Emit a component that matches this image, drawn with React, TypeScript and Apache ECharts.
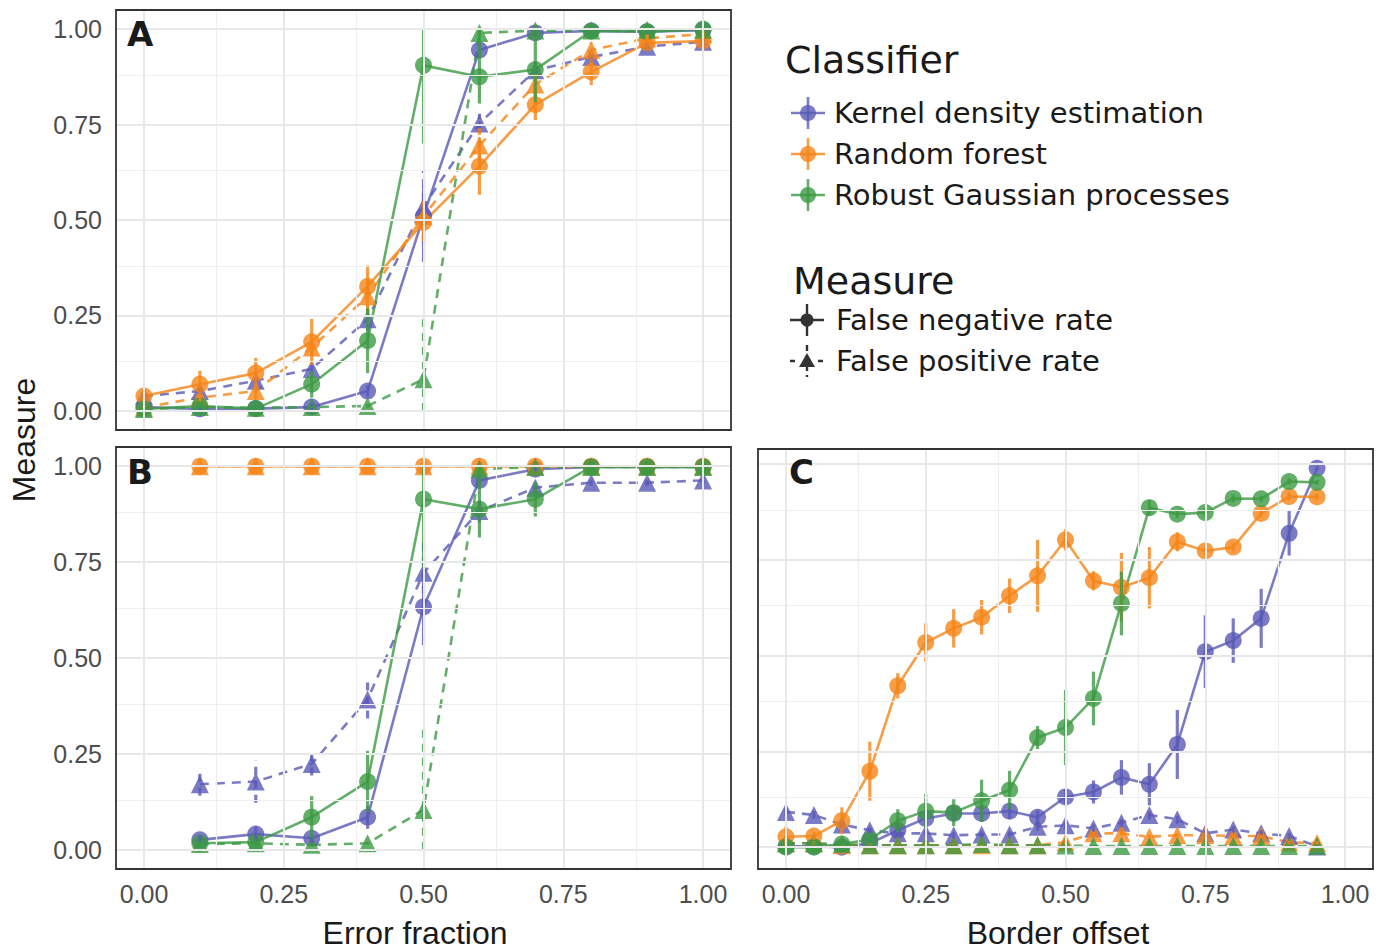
import React, { useEffect, useRef } from 'react';
import * as echarts from 'echarts';

// ---------- data ----------
const errorFractionA = [0, 0.1, 0.2, 0.3, 0.4, 0.5, 0.6, 0.7, 0.8, 0.9, 1.0];
const errorFractionB = [0.1, 0.2, 0.3, 0.4, 0.5, 0.6, 0.7, 0.8, 0.9, 1.0];
const borderOffset = [0, 0.05, 0.1, 0.15, 0.2, 0.25, 0.3, 0.35, 0.4, 0.45, 0.5, 0.55, 0.6, 0.65, 0.7, 0.75, 0.8, 0.85, 0.9, 0.95];

type Err = number | [number, number];

// Panel A
const aKdeFnr = [0.01, 0.005, 0.006, 0.01, 0.052, 0.51, 0.945, 0.99, 0.995, 0.993, 0.997];
const aKdeFnrErr: Err[] = [0.005, 0.005, 0.005, 0.01, 0.015, [0.12, 0.08], 0.02, 0.01, 0.005, 0.005, 0.005];
const aKdeFpr = [0.039, 0.052, 0.079, 0.11, 0.24, 0.535, 0.753, 0.892, 0.927, 0.954, 0.967];
const aKdeFprErr: Err[] = [0.005, 0.01, 0.012, 0.012, 0.03, 0.095, 0.025, 0.02, 0.015, 0.01, 0.008];
const aRfFnr = [0.039, 0.07, 0.099, 0.181, 0.326, 0.494, 0.641, 0.802, 0.888, 0.964, 0.969];
const aRfFnrErr: Err[] = [0.01, 0.035, 0.04, 0.06, 0.055, 0.05, 0.075, 0.04, 0.035, 0.02, 0.01];
const aRfFpr = [0.009, 0.035, 0.052, 0.166, 0.3, 0.51, 0.695, 0.855, 0.945, 0.976, 0.987];
const aRfFprErr: Err[] = [0.005, 0.01, 0.02, 0.02, 0.045, 0.04, 0.045, 0.03, 0.02, 0.01, 0.01];
const aRgpFnr = [0.005, 0.013, 0.006, 0.07, 0.184, 0.905, 0.875, 0.894, 0.995, 0.993, 1.0];
const aRgpFnrErr: Err[] = [0.005, 0.005, 0.005, 0.035, 0.085, [0.205, 0.095], [0.07, 0.12], [0.085, 0.1], 0.005, 0.005, 0.003];
const aRgpFpr = [0.005, 0.01, 0.008, 0.01, 0.013, 0.083, 0.99, 0.996, 0.996, 0.998, 0.998];
const aRgpFprErr: Err[] = [0.003, 0.003, 0.003, 0.003, 0.005, [0.083, 0.157], 0.01, 0.003, 0.003, 0.003, 0.003];

// Panel B
const bKdeFnr = [0.026, 0.041, 0.03, 0.085, 0.633, 0.963, 0.992, 0.998, 0.998, 0.998];
const bKdeFnrErr: Err[] = [0.012, 0.02, 0.012, 0.03, 0.1, 0.015, 0.005, 0.002, 0.002, 0.002];
const bKdeFpr = [0.171, 0.178, 0.224, 0.392, 0.722, 0.883, 0.944, 0.957, 0.957, 0.963];
const bKdeFprErr: Err[] = [0.03, 0.055, 0.03, 0.05, 0.09, 0.03, 0.015, 0.008, 0.008, 0.008];
const bRfFnr = [1, 1, 1, 1, 1, 1, 1, 1, 1, 1];
const bRfFnrErr: Err[] = [0, 0, 0, 0, 0, 0, 0, 0, 0, 0];
const bRfFpr = [1, 1, 1, 1, 1, 1, 1, 1, 1, 1];
const bRfFprErr: Err[] = [0, 0, 0, 0, 0, 0, 0, 0, 0, 0];
const bRgpFnr = [0.017, 0.02, 0.085, 0.178, 0.914, 0.888, 0.914, 0.998, 0.998, 0.998];
const bRgpFnrErr: Err[] = [0.005, 0.008, 0.055, 0.08, [0.178, 0.086], [0.074, 0.104], 0.045, 0.002, 0.002, 0.002];
const bRgpFpr = [0.015, 0.017, 0.013, 0.017, 0.104, 0.992, 0.998, 0.998, 0.998, 0.998];
const bRgpFprErr: Err[] = [0.003, 0.003, 0.003, 0.003, [0.104, 0.222], 0.005, 0.002, 0.002, 0.002, 0.002];

// Panel C
const cKdeFnr = [0.002, 0.002, 0.0, 0.01, 0.044, 0.075, 0.088, 0.088, 0.094, 0.078, 0.131, 0.144, 0.182, 0.164, 0.268, 0.51, 0.539, 0.597, 0.819, 0.989];
const cKdeFnrErr: Err[] = [0.003, 0.003, 0.003, 0.008, 0.015, 0.02, 0.02, 0.022, 0.02, 0.018, 0.02, 0.03, 0.045, 0.055, 0.09, 0.095, 0.058, 0.077, 0.058, 0.005];
const cKdeFpr = [0.092, 0.084, 0.059, 0.044, 0.036, 0.036, 0.031, 0.033, 0.033, 0.053, 0.057, 0.049, 0.064, 0.084, 0.073, 0.036, 0.046, 0.036, 0.029, 0.002];
const cKdeFprErr: Err[] = [0.01, 0.01, 0.01, 0.008, 0.008, 0.008, 0.008, 0.008, 0.008, 0.01, 0.01, 0.01, 0.012, 0.012, 0.012, 0.008, 0.008, 0.008, 0.008, 0.003];
const cRfFnr = [0.027, 0.029, 0.069, 0.198, 0.421, 0.534, 0.571, 0.6, 0.656, 0.708, 0.802, 0.695, 0.678, 0.703, 0.797, 0.773, 0.783, 0.871, 0.915, 0.914];
const cRfFnrErr: Err[] = [0.027, 0.01, 0.035, 0.077, 0.033, 0.05, 0.05, 0.045, 0.045, 0.094, 0.028, 0.025, 0.09, 0.08, 0.025, 0.01, 0.01, 0.01, 0.01, 0.008];
const cRfFpr = [0.01, 0.01, 0.005, 0.005, 0.005, 0.005, 0.005, 0.005, 0.005, 0.005, 0.013, 0.036, 0.036, 0.027, 0.031, 0.031, 0.029, 0.029, 0.012, 0.011];
const cRfFprErr: Err[] = [0.005, 0.005, 0.005, 0.005, 0.005, 0.005, 0.005, 0.005, 0.005, 0.005, 0.005, 0.005, 0.005, 0.005, 0.005, 0.005, 0.005, 0.005, 0.005, 0.005];
const cRgpFnr = [0.0, 0.0, 0.008, 0.02, 0.069, 0.094, 0.09, 0.121, 0.149, 0.286, 0.312, 0.388, 0.636, 0.886, 0.869, 0.873, 0.91, 0.909, 0.954, 0.952];
const cRgpFnrErr: Err[] = [0.005, 0.005, 0.005, 0.01, 0.03, 0.045, 0.035, 0.055, 0.05, 0.03, 0.098, 0.07, 0.083, 0.02, 0.01, 0.012, 0.01, 0.008, 0.008, 0.006];
const cRgpFpr = [0.01, 0.01, 0.008, 0.005, 0.005, 0.005, 0.005, 0.008, 0.005, 0.005, 0.004, 0.003, 0.003, 0.003, 0.003, 0.003, 0.003, 0.003, 0.003, 0.003];
const cRgpFprErr: Err[] = [0.003, 0.003, 0.003, 0.003, 0.003, 0.003, 0.003, 0.003, 0.003, 0.003, 0.003, 0.003, 0.003, 0.003, 0.003, 0.003, 0.003, 0.003, 0.003, 0.003];

const tickValues = [0, 0.25, 0.5, 0.75, 1];
const minorValues = [0.125, 0.375, 0.625, 0.875];
const classifierNames = ['Kernel density estimation', 'Random forest', 'Robust Gaussian processes'];
const measureNames = ['False negative rate', 'False positive rate'];

// ---------- styles ----------
const BLUE = '#5a5ab6';
const ORANGE = '#f58518';
const GREEN = '#3c9a44';
const COLORS = [BLUE, ORANGE, GREEN];
const ALPHA = 0.8;
const AXIS_FONT = '"Liberation Sans", Arial, sans-serif';
const LEGEND_FONT = '"DejaVu Sans", sans-serif';

type SeriesSet = { fnr: number[]; fnrErr: Err[]; fpr: number[]; fprErr: Err[] };

function errData(xs: number[], vs: number[], es: Err[]) {
  return xs.map((x, i) => {
    const e = es[i];
    const d = Array.isArray(e) ? e[0] : e;
    const u = Array.isArray(e) ? e[1] : e;
    return [x, vs[i] - d, vs[i] + u];
  });
}

function gridLineSeries(g: number) {
  const minorStyle = { color: '#efefef', width: 1.2, type: 'solid' };
  const majorStyle = { color: '#e8e8e8', width: 2, type: 'solid' };
  return {
    type: 'line',
    xAxisIndex: g,
    yAxisIndex: g,
    data: [],
    silent: true,
    z: 1,
    markLine: {
      silent: true,
      symbol: ['none', 'none'],
      label: { show: false },
      emphasis: { disabled: true },
      animation: false,
      data: [
        ...minorValues.map((v) => ({ yAxis: v, lineStyle: minorStyle })),
        ...minorValues.map((v) => ({ xAxis: v, lineStyle: minorStyle })),
        ...tickValues.map((v) => ({ yAxis: v, lineStyle: majorStyle })),
        ...tickValues.map((v) => ({ xAxis: v, lineStyle: majorStyle })),
      ],
    },
  };
}

function panelSeries(g: number, xs: number[], sets: SeriesSet[]) {
  const lines: any[] = [];
  const bars: any[] = [];
  sets.forEach((s, ci) => {
    const color = COLORS[ci];
    [
      { vals: s.fnr, errs: s.fnrErr, dashed: false, m: 0 },
      { vals: s.fpr, errs: s.fprErr, dashed: true, m: 1 },
    ].forEach(({ vals, errs, dashed, m }) => {
      lines.push({
        name: classifierNames[ci] + ' - ' + measureNames[m],
        type: 'line',
        xAxisIndex: g,
        yAxisIndex: g,
        data: xs.map((x, i) => [x, vals[i]]),
        symbol: dashed ? 'triangle' : 'circle',
        symbolSize: dashed ? 18 : 17,
        showSymbol: true,
        silent: true,
        z: 3,
        lineStyle: { color, width: 2.6, type: dashed ? [9, 7] : 'solid', opacity: ALPHA },
        itemStyle: { color, opacity: ALPHA },
      });
      bars.push({
        type: 'custom',
        xAxisIndex: g,
        yAxisIndex: g,
        silent: true,
        z: 4,
        itemStyle: { color, borderColor: color, borderWidth: 3.2 },
        data: errData(xs, vals, errs),
        encode: { x: 0, y: [1, 2] },
        renderItem: (_params: any, api: any) => {
          const x = api.value(0);
          const a = api.coord([x, api.value(1)]);
          const b = api.coord([x, api.value(2)]);
          return {
            type: 'line',
            shape: { x1: a[0], y1: a[1], x2: b[0], y2: b[1] },
            style: { stroke: color, lineWidth: 3.2, lineDash: dashed ? [8, 6] : null, opacity: ALPHA, fill: null },
          };
        },
      });
    });
  });
  return [...lines, ...bars];
}

function makeXAxis(g: number, showLabels: boolean) {
  return {
    type: 'value',
    gridIndex: g,
    min: -0.05,
    max: 1.05,
    axisLine: { show: false },
    splitLine: { show: false },
    axisTick: {
      show: showLabels,
      customValues: tickValues,
      length: 8,
      lineStyle: { color: '#333333', width: 1.6 },
    },
    axisLabel: {
      show: showLabels,
      customValues: tickValues,
      formatter: (v: number) => v.toFixed(2),
      fontFamily: AXIS_FONT,
      fontSize: 25,
      color: '#4d4d4d',
      margin: 12,
    },
  };
}

function makeYAxis(g: number, showLabels: boolean, min: number, max: number) {
  return {
    type: 'value',
    gridIndex: g,
    min,
    max,
    axisLine: { show: false },
    splitLine: { show: false },
    axisTick: {
      show: showLabels,
      customValues: tickValues,
      length: 8,
      lineStyle: { color: '#333333', width: 1.6 },
    },
    axisLabel: {
      show: showLabels,
      customValues: tickValues,
      formatter: (v: number) => v.toFixed(2),
      fontFamily: AXIS_FONT,
      fontSize: 25,
      color: '#4d4d4d',
      margin: 14,
    },
  };
}

const panels = [
  { left: 116, top: 10, width: 615, height: 420, label: 'A' },
  { left: 116, top: 447, width: 615, height: 422, label: 'B' },
  { left: 758, top: 449, width: 615, height: 420, label: 'C' },
];

function legendGraphics() {
  const els: any[] = [];
  els.push({
    type: 'text', x: 785, y: 60,
    style: { text: 'Classifier', fontFamily: LEGEND_FONT, fontSize: 38, fill: '#1a1a1a', align: 'left', verticalAlign: 'middle' },
  });
  const rowsY = [113, 154, 195];
  rowsY.forEach((y, i) => {
    const c = COLORS[i];
    els.push({ type: 'line', shape: { x1: 791, y1: y, x2: 825, y2: y }, style: { stroke: c, lineWidth: 2.6, opacity: ALPHA } });
    els.push({ type: 'line', shape: { x1: 808, y1: y - 16, x2: 808, y2: y + 16 }, style: { stroke: c, lineWidth: 2.6, opacity: ALPHA } });
    els.push({ type: 'circle', shape: { cx: 808, cy: y, r: 8 }, style: { fill: c, opacity: ALPHA } });
    els.push({
      type: 'text', x: 834, y,
      style: { text: classifierNames[i], fontFamily: LEGEND_FONT, fontSize: 29, fill: '#1a1a1a', align: 'left', verticalAlign: 'middle' },
    });
  });
  els.push({
    type: 'text', x: 793, y: 281,
    style: { text: 'Measure', fontFamily: LEGEND_FONT, fontSize: 38, fill: '#1a1a1a', align: 'left', verticalAlign: 'middle' },
  });
  const mY = [320, 361];
  mY.forEach((y, i) => {
    const dashed = i === 1;
    els.push({ type: 'line', shape: { x1: 790, y1: y, x2: 824, y2: y }, style: { stroke: '#333333', lineWidth: 2.4, lineDash: dashed ? [5, 9] : null } });
    els.push({ type: 'line', shape: { x1: 807, y1: y - 16, x2: 807, y2: y + 16 }, style: { stroke: '#333333', lineWidth: 2.4, lineDash: dashed ? [6, 4] : null } });
    if (dashed) {
      els.push({ type: 'polygon', shape: { points: [[807, y - 8], [799, y + 6], [815, y + 6]] }, style: { fill: '#333333' } });
    } else {
      els.push({ type: 'circle', shape: { cx: 807, cy: y, r: 6.5 }, style: { fill: '#333333' } });
    }
    els.push({
      type: 'text', x: 836, y,
      style: { text: measureNames[i], fontFamily: LEGEND_FONT, fontSize: 29, fill: '#1a1a1a', align: 'left', verticalAlign: 'middle' },
    });
  });
  return els;
}

function buildOption() {
  const series = [
    gridLineSeries(0),
    gridLineSeries(1),
    gridLineSeries(2),
    ...panelSeries(0, errorFractionA, [
      { fnr: aKdeFnr, fnrErr: aKdeFnrErr, fpr: aKdeFpr, fprErr: aKdeFprErr },
      { fnr: aRfFnr, fnrErr: aRfFnrErr, fpr: aRfFpr, fprErr: aRfFprErr },
      { fnr: aRgpFnr, fnrErr: aRgpFnrErr, fpr: aRgpFpr, fprErr: aRgpFprErr },
    ]),
    ...panelSeries(1, errorFractionB, [
      { fnr: bKdeFnr, fnrErr: bKdeFnrErr, fpr: bKdeFpr, fprErr: bKdeFprErr },
      { fnr: bRfFnr, fnrErr: bRfFnrErr, fpr: bRfFpr, fprErr: bRfFprErr },
      { fnr: bRgpFnr, fnrErr: bRgpFnrErr, fpr: bRgpFpr, fprErr: bRgpFprErr },
    ]),
    ...panelSeries(2, borderOffset, [
      { fnr: cKdeFnr, fnrErr: cKdeFnrErr, fpr: cKdeFpr, fprErr: cKdeFprErr },
      { fnr: cRfFnr, fnrErr: cRfFnrErr, fpr: cRfFpr, fprErr: cRfFprErr },
      { fnr: cRgpFnr, fnrErr: cRgpFnrErr, fpr: cRgpFpr, fprErr: cRgpFprErr },
    ]),
  ];

  const graphic: any[] = [];
  panels.forEach((p) => {
    graphic.push({
      type: 'rect', z: 100, silent: true,
      shape: { x: p.left, y: p.top, width: p.width, height: p.height },
      style: { fill: 'none', stroke: '#333333', lineWidth: 1.8 },
    });
  });
  graphic.push({ type: 'text', z: 101, x: 127, y: 34, style: { text: 'A', fontFamily: LEGEND_FONT, fontWeight: 'bold', fontSize: 34, fill: '#1a1a1a', align: 'left', verticalAlign: 'middle' } });
  graphic.push({ type: 'text', z: 101, x: 127, y: 472, style: { text: 'B', fontFamily: LEGEND_FONT, fontWeight: 'bold', fontSize: 34, fill: '#1a1a1a', align: 'left', verticalAlign: 'middle' } });
  graphic.push({ type: 'text', z: 101, x: 789, y: 472, style: { text: 'C', fontFamily: LEGEND_FONT, fontWeight: 'bold', fontSize: 34, fill: '#1a1a1a', align: 'left', verticalAlign: 'middle' } });
  graphic.push({ type: 'text', x: 415, y: 933, style: { text: 'Error fraction', fontFamily: AXIS_FONT, fontSize: 32, fill: '#1a1a1a', align: 'center', verticalAlign: 'middle' } });
  graphic.push({ type: 'text', x: 1058, y: 933, style: { text: 'Border offset', fontFamily: AXIS_FONT, fontSize: 32, fill: '#1a1a1a', align: 'center', verticalAlign: 'middle' } });
  graphic.push({ type: 'text', x: 24, y: 440, rotation: Math.PI / 2, style: { text: 'Measure', fontFamily: AXIS_FONT, fontSize: 32, fill: '#1a1a1a', align: 'center', verticalAlign: 'middle' } });
  graphic.push(...legendGraphics());

  return {
    animation: false,
    backgroundColor: '#ffffff',
    grid: panels.map((p) => ({ left: p.left, top: p.top, width: p.width, height: p.height, show: false, containLabel: false, outerBoundsMode: 'none' })),
    xAxis: [makeXAxis(0, false), makeXAxis(1, true), makeXAxis(2, true)],
    yAxis: [makeYAxis(0, true, -0.05, 1.05), makeYAxis(1, true, -0.05, 1.05), makeYAxis(2, false, -0.057, 1.039)],
    series,
    graphic,
  };
}

export default function App() {
  const ref = useRef<HTMLDivElement>(null);
  useEffect(() => {
    document.body.style.margin = '0';
    if (!ref.current) return;
    const chart = echarts.init(ref.current, undefined, { renderer: 'svg' });
    chart.setOption(buildOption() as any);
    return () => chart.dispose();
  }, []);
  return <div ref={ref} style={{ width: 1389, height: 952 }} />;
}
